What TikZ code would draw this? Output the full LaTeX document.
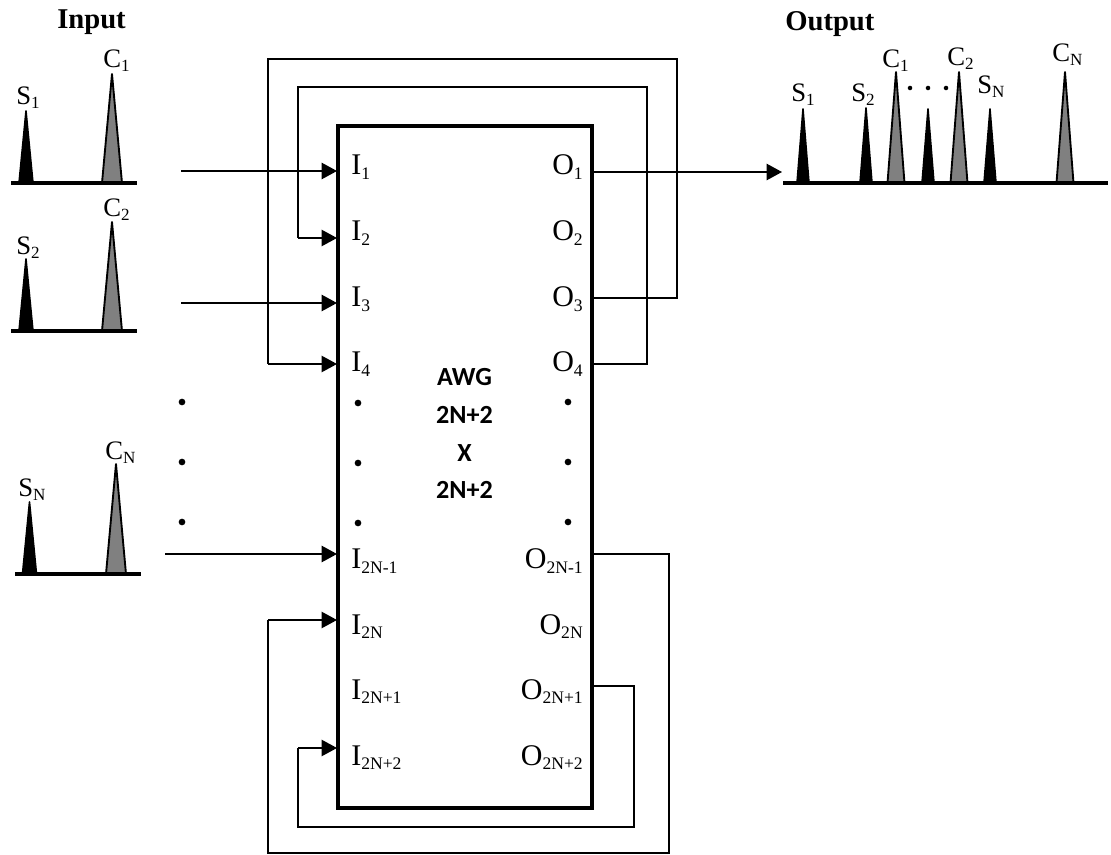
\documentclass[tikz,border=0pt]{standalone}
\usepackage{fontspec}
\setmainfont{Liberation Serif}
\newfontfamily\awgfont{Carlito}
\usetikzlibrary{arrows.meta}
\definecolor{pulsegray}{gray}{0.5}
\newcommand{\lbl}[2]{{\fontsize{22.5pt}{26pt}\selectfont #1\raisebox{-3.3pt}{\fontsize{13.2pt}{16pt}\selectfont #2}}}
\newcommand{\plbl}[2]{{\fontsize{20pt}{24pt}\selectfont #1\raisebox{-2.4pt}{\fontsize{12.8pt}{15pt}\selectfont #2}}}
\newcommand{\spulse}[3]{\draw[blackpeak] (#1-7,#2) -- (#1,#3+1) -- (#1+7,#2) -- cycle;}
\newcommand{\cpulse}[3]{\draw[graypeak] (#1-10,#2) -- (#1,#3+1) -- (#1+10,#2) -- cycle;}
\newcommand{\spulseo}[3]{\draw[blackpeak] (#1-6,#2) -- (#1,#3+1) -- (#1+6,#2) -- cycle;}
\newcommand{\cpulseo}[3]{\draw[graypeak] (#1-8.5,#2) -- (#1,#3+1) -- (#1+8.5,#2) -- cycle;}
\tikzset{
  x=0.75pt,y=-0.75pt,
  awgbox/.style={draw,line width=2.3pt,minimum width=190.5pt,minimum height=511.5pt,inner sep=0pt,outer sep=0pt},
  graypeak/.style={fill=pulsegray,draw=black,line width=1.4pt,line join=round},
  blackpeak/.style={fill=black,draw=black,line width=1.2pt,line join=round},
  baseline rule/.style={line width=2.3pt},
  feed/.style={line width=1.7pt,-{Triangle[length=11.5pt,width=12pt]},shorten >=0.7pt},
  loopout/.style={line width=1.25pt,line cap=square},
  loopin/.style={line width=1.6pt,line cap=square,-{Triangle[length=11.5pt,width=12pt]},shorten >=0.7pt},
  portin/.style={anchor=base west,inner sep=0pt},
  portout/.style={anchor=base east,inner sep=0pt},
  plabel/.style={anchor=base west,inner sep=0pt},
  title/.style={anchor=base west,inner sep=0pt,font=\fontsize{21.5pt}{26pt}\selectfont\bfseries},
  awgtext/.style={inner sep=0pt,font=\fontsize{19.6pt}{22pt}\selectfont\awgfont\bfseries},
  dotbig/.style={circle,fill=black,inner sep=0pt,minimum size=5pt},
  dotsmall/.style={circle,fill=black,inner sep=0pt,minimum size=3.4pt},
}
\begin{document}
\begin{tikzpicture}
\useasboundingbox (0,0) rectangle (1111,855);

% pulses, input
\cpulse{112}{183}{73}\spulse{26}{183}{110}
\draw[baseline rule] (11,183) -- (137,183);
\cpulse{112}{331}{221}\spulse{26}{331}{258}
\draw[baseline rule] (11,331) -- (137,331);
\cpulse{116}{574}{463}\spulse{29.5}{574}{501}
\draw[baseline rule] (15,574) -- (141,574);

% pulses, output
\spulseo{803}{183}{108}\spulseo{866}{183}{107}\cpulseo{896}{183}{71}
\spulseo{928}{183}{108}\cpulseo{959}{183}{71}\spulseo{990}{183}{108}\cpulseo{1065}{183}{71}
\draw[baseline rule] (783,183) -- (1108,183);

% titles and pulse labels
\node[title] (tin) at (57,29) {Input};
\node[title] (tout) at (785,31) {Output};
\node[plabel] (ls1) at (16,105) {\plbl{S}{1}};
\node[plabel] (lc1) at (103,68) {\plbl{C}{1}};
\node[plabel] (ls2) at (16,255) {\plbl{S}{2}};
\node[plabel] (lc2) at (103,217) {\plbl{C}{2}};
\node[plabel] (lsn) at (18,497) {\plbl{S}{N}};
\node[plabel] (lcn) at (105,460) {\plbl{C}{N}};
\node[plabel] (os1) at (791,102) {\plbl{S}{1}};
\node[plabel] (os2) at (851,102) {\plbl{S}{2}};
\node[plabel] (oc1) at (882,68) {\plbl{C}{1}};
\node[plabel] (oc2) at (947,66) {\plbl{C}{2}};
\node[plabel] (osn) at (977,94) {\plbl{S}{N}};
\node[plabel] (ocn) at (1052,62) {\plbl{C}{N}};

% AWG box
\node[awgbox] (awg) at (465,467) {};
\node[awgtext] (t1) at (464.5,377) {AWG};
\node[awgtext] (t2) at (464.5,415) {2N+2};
\node[awgtext] (t3) at (464.5,453) {X};
\node[awgtext] (t4) at (464.5,490) {2N+2};

% ports
\node[portin] (pi1) at (351,175) {\lbl{I}{1}};
\node[portin] (pi2) at (351,241) {\lbl{I}{2}};
\node[portin] (pi3) at (351,307) {\lbl{I}{3}};
\node[portin] (pi4) at (351,372) {\lbl{I}{4}};
\node[portin] (pi5) at (351,569) {\lbl{I}{2N-1}};
\node[portin] (pi6) at (351,634) {\lbl{I}{2N}};
\node[portin] (pi7) at (351,699) {\lbl{I}{2N+1}};
\node[portin] (pi8) at (351,765) {\lbl{I}{2N+2}};
\node[portout] (po1) at (583,175) {\lbl{O}{1}};
\node[portout] (po2) at (583,241) {\lbl{O}{2}};
\node[portout] (po3) at (583,307) {\lbl{O}{3}};
\node[portout] (po4) at (583,372) {\lbl{O}{4}};
\node[portout] (po5) at (583,569) {\lbl{O}{2N-1}};
\node[portout] (po6) at (583,634) {\lbl{O}{2N}};
\node[portout] (po7) at (583,699) {\lbl{O}{2N+1}};
\node[portout] (po8) at (583,765) {\lbl{O}{2N+2}};

% dots
\foreach \n/\x/\y in {a/182/402,b/182/462,c/182/522,d/358/403,e/358/463,f/358/523,g/568/402,h/568/462,i/568/522}
  \node[dotbig] (dot\n) at (\x,\y) {};
\foreach \n/\x in {p/910,q/928,r/946}
  \node[dotsmall] (dot\n) at (\x,88) {};

% connector ends
\coordinate (ai1) at (338,171);
\coordinate (ai2) at (338,238);
\coordinate (ai3) at (338,303);
\coordinate (ai4) at (338,364);
\coordinate (ai5) at (338,554);
\coordinate (ai6) at (338,620);
\coordinate (ai8) at (338,748);
\coordinate (ao1) at (592,172);
\coordinate (ao3) at (592,298);
\coordinate (ao4) at (592,364);
\coordinate (ao5) at (592,554);
\coordinate (ao7) at (592,686);
\coordinate (src1) at (181,171);
\coordinate (src3) at (181,303);
\coordinate (src5) at (165,554);
\coordinate (dst1) at (783,172);

% feeds
\draw[feed] (src1) -- (ai1);
\draw[feed] (src3) -- (ai3);
\draw[feed] (src5) -- (ai5);
\draw[feed] (ao1) -- (dst1);

% loops
\draw[loopout] (ao3) -- (677,298) -- (677,59) -- (268,59) -- (268,364);
\draw[loopin] (268,364) -- (ai4);
\draw[loopout] (ao4) -- (647,364) -- (647,87) -- (298,87) -- (298,238);
\draw[loopin] (298,238) -- (ai2);
\draw[loopout] (ao5) -- (669,554) -- (669,853) -- (268,853) -- (268,620);
\draw[loopin] (268,620) -- (ai6);
\draw[loopout] (ao7) -- (634,686) -- (634,827) -- (298,827) -- (298,748);
\draw[loopin] (298,748) -- (ai8);
\end{tikzpicture}
\end{document}
